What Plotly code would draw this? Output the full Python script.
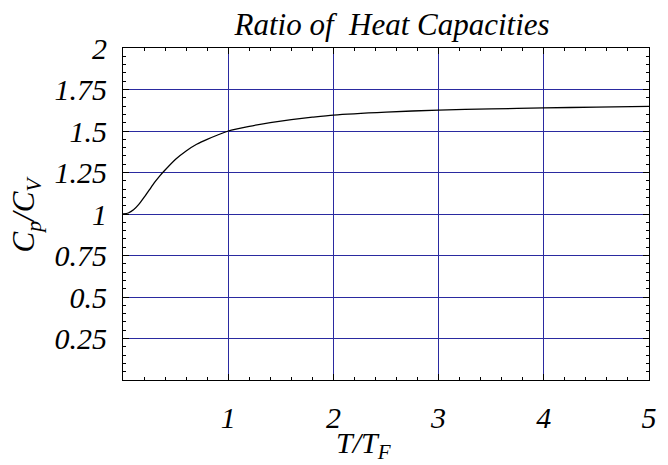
import plotly.graph_objects as go

# Values
t_ratio = [0.0, 0.05, 0.10, 0.15, 0.20, 0.25, 0.30, 0.35, 0.40, 0.50, 0.60, 0.70,
           0.80, 0.90, 1.00, 1.20, 1.40, 1.60, 1.80, 2.00, 2.50, 3.00, 3.50, 4.00,
           4.50, 5.00]
cp_cv = [1.000, 1.006, 1.025, 1.058, 1.100, 1.145, 1.190, 1.230, 1.265, 1.330, 1.380, 1.420,
         1.450, 1.476, 1.500, 1.528, 1.550, 1.568, 1.583, 1.596, 1.614, 1.626, 1.633, 1.639,
         1.644, 1.648]

x_tickvals = [1, 2, 3, 4, 5]
x_ticktext = ["1", "2", "3", "4", "5"]
y_tickvals = [0.25, 0.5, 0.75, 1, 1.25, 1.5, 1.75, 2]
y_ticktext = ["0.25", "0.5", "0.75", "1", "1.25", "1.5", "1.75", "2"]

title_text = "Ratio of  Heat Capacities"
x_title = "T/T<sub>F</sub>"
y_title = "C<sub>p</sub>/C<sub>V</sub>"

FONT = "Liberation Serif"
GRID = "#2a2aa0"

fig = go.Figure()
fig.add_trace(go.Scatter(x=t_ratio, y=cp_cv, mode="lines",
                         line=dict(color="black", width=1.3, shape="spline", smoothing=0.6),
                         showlegend=False, hoverinfo="skip"))

axis_common = dict(
    showline=True, linecolor="black", linewidth=1, mirror="allticks",
    ticks="inside", ticklen=6, tickcolor="black", tickwidth=1,
    showgrid=True, gridcolor=GRID, gridwidth=1, zeroline=False,
    tickfont=dict(family=FONT, size=30, color="black", style="italic"),
)

fig.update_xaxes(
    range=[0, 5], tickmode="array", tickvals=x_tickvals, ticktext=x_ticktext,
    ticklabelstandoff=11,
    minor=dict(dtick=0.2, tick0=0, ticks="inside", ticklen=3, tickcolor="black", showgrid=False),
    **axis_common,
)
fig.update_yaxes(
    range=[0, 2], tickmode="array", tickvals=y_tickvals, ticktext=y_ticktext,
    ticklabelstandoff=9,
    minor=dict(dtick=0.05, tick0=0, ticks="inside", ticklen=3, tickcolor="black", showgrid=False),
    **axis_common,
)

fig.add_annotation(text=x_title, xref="paper", yref="paper", x=0.457, y=-0.195,
                   xanchor="center", yanchor="middle", showarrow=False,
                   font=dict(family=FONT, size=30, color="black", style="italic"))
fig.add_annotation(text=y_title, xref="paper", yref="paper", x=-0.1835, y=0.5,
                   xanchor="center", yanchor="middle", showarrow=False, textangle=-90,
                   font=dict(family=FONT, size=31, color="black", style="italic"))

fig.update_layout(
    width=668, height=465,
    margin=dict(l=123, r=11, t=48, b=85),
    paper_bgcolor="white", plot_bgcolor="white",
    title=dict(text=title_text, x=0.587, xanchor="center", y=0.948, yanchor="middle",
               font=dict(family=FONT, size=31, color="black", style="italic")),
)

fig.write_html("out.html")
